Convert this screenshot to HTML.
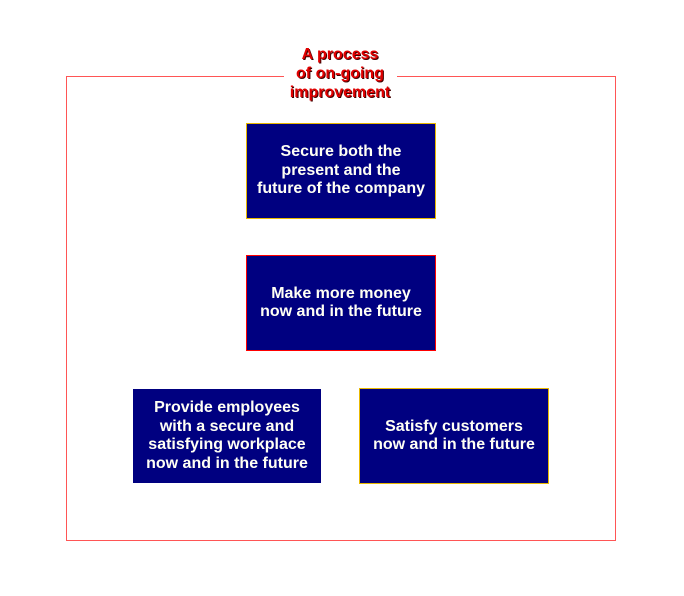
<!DOCTYPE html>
<html>
<head>
<meta charset="utf-8">
<style>
  html,body{margin:0;padding:0;background:#fff;}
  body{width:684px;height:596px;position:relative;overflow:hidden;font-family:"Liberation Sans",Arial,sans-serif;}
  .frame{position:absolute;left:66px;top:76px;width:548px;height:463px;border:1px solid #ff5555;}
  .gap{position:absolute;left:284px;top:70px;width:113px;height:12px;background:#fff;}
  .title{position:absolute;left:240px;top:45px;width:200px;text-align:center;color:#e00000;font-weight:bold;font-size:16px;line-height:19px;text-shadow:1px 1px 0 #400000;}
  .box{position:absolute;box-sizing:border-box;background:#000080;display:flex;align-items:center;justify-content:center;text-align:center;color:#fffff4;font-weight:bold;font-size:16px;line-height:18.5px;}
</style>
</head>
<body>
  <div class="frame"></div>
  <div class="gap"></div>
  <div class="title">A process<br>of on-going<br>improvement</div>

  <div class="box" style="left:246px;top:123px;width:190px;height:96px;border:1px solid #e8b800;">Secure both the<br>present and the<br>future of the company</div>

  <div class="box" style="left:246px;top:255px;width:190px;height:96px;border:1px solid #ff0000;">Make more money<br>now and in the future</div>

  <div class="box" style="left:133px;top:389px;width:188px;height:94px;">Provide employees<br>with a secure and<br>satisfying workplace<br>now and in the future</div>

  <div class="box" style="left:359px;top:388px;width:190px;height:96px;border:1px solid #e8b800;">Satisfy customers<br>now and in the future</div>
</body>
</html>
